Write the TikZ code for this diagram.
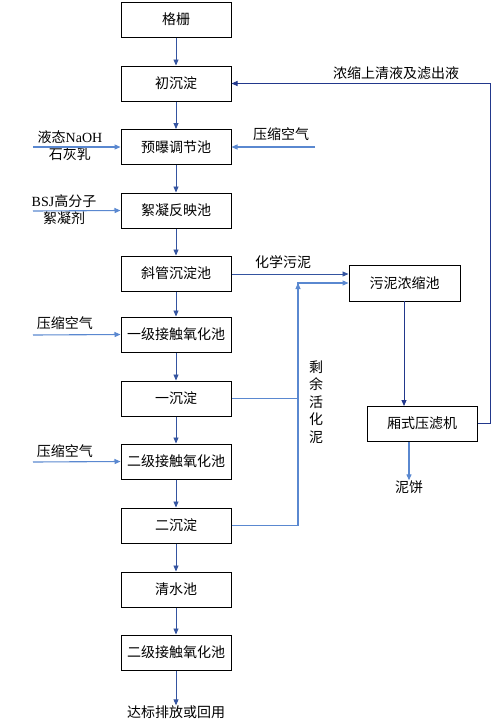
\documentclass[tikz,border=0pt]{standalone}
\usepackage{fontspec}
\setmainfont{Liberation Serif}
\newfontfamily\cjk{Noto Sans CJK SC}
\usetikzlibrary{arrows.meta}
\definecolor{flowdark}{RGB}{52,84,160}
\definecolor{flowlight}{RGB}{90,136,208}
\definecolor{flownavy}{RGB}{34,56,140}
\begin{document}
\begin{tikzpicture}[x=1pt,y=-1pt,
    tank/.style={draw,line width=1pt,minimum width=110pt,minimum height=35pt,inner sep=0pt,font=\fontsize{14}{16}\selectfont\cjk},
    lbl/.style={inner sep=0pt,align=center,font=\fontsize{14}{16}\selectfont},
    flow/.style={-{Triangle[length=6pt,width=5pt]},line width=0.9pt,flowdark},
    feed/.style={flow,flowlight,line width=1.1pt}]
    \useasboundingbox (0,0) rectangle (501,724);

    % main line
    \node[tank] (geshan) at (176,19.5) {格栅};
    \node[tank] (chuchen) at (176,83.5) {初沉淀};
    \node[tank] (yubao) at (176,147) {预曝调节池};
    \node[tank] (xuning) at (176,210.5) {絮凝反映池};
    \node[tank] (xieguan) at (176,273.5) {斜管沉淀池};
    \node[tank] (yiji) at (176,334.5) {一级接触氧化池};
    \node[tank] (yichen) at (176,398.5) {一沉淀};
    \node[tank] (erji) at (176,461.5) {二级接触氧化池};
    \node[tank] (erchen) at (176,525.5) {二沉淀};
    \node[tank] (qingshui) at (176,589.5) {清水池};
    \node[tank] (erjib) at (176,652.5) {二级接触氧化池};
    \node[lbl,font=\fontsize{14}{16}\selectfont\cjk] (dabiao) at (176,712) {达标排放或回用};

    \draw[flow] (geshan) -- (chuchen);
    \draw[flow] (chuchen) -- (yubao);
    \draw[flow] (yubao) -- (xuning);
    \draw[flow] (xuning) -- (xieguan);
    \draw[flow] (xieguan) -- (yiji);
    \draw[flow] (yiji) -- (yichen);
    \draw[flow] (yichen) -- (erji);
    \draw[flow] (erji) -- (erchen);
    \draw[flow] (erchen) -- (qingshui);
    \draw[flow] (qingshui) -- (erjib);
    \draw[flow] (erjib) -- (dabiao.north);

    % dosing on the left
    \coordinate (naohin) at (33,147);
    \coordinate (bsjin) at (33,211);
    \coordinate (air1in) at (33,335);
    \coordinate (air2in) at (33,462);
    \node[lbl] (naoh) at (70,145.5) {{\cjk 液态}NaOH\\[1pt]{\cjk 石灰乳}};
    \node[lbl] (bsj) at (64,209.5) {BSJ{\cjk 高分子}\\[1pt]{\cjk 絮凝剂}};
    \node[lbl,font=\fontsize{14}{16}\selectfont\cjk] (air1) at (65,323) {压缩空气};
    \node[lbl,font=\fontsize{14}{16}\selectfont\cjk] (air2) at (65,451) {压缩空气};
    \draw[feed] (naohin) -- (yubao.west);
    \draw[feed] (bsjin) -- (xuning.west);
    \draw[feed] (air1in) -- (yiji.west);
    \draw[feed] (air2in) -- (erji.west);

    % air on the right
    \coordinate (air3in) at (315,147);
    \node[lbl,font=\fontsize{14}{16}\selectfont\cjk] (air3) at (281,134) {压缩空气};
    \draw[feed] (air3in) -- (yubao.east);

    % sludge line
    \node[tank,minimum width=111pt,minimum height=36pt] (nongsuo) at (404.5,283) {污泥浓缩池};
    \node[tank,minimum width=110pt,minimum height=35pt] (yalv) at (422,423.5) {厢式压滤机};
    \node[lbl,font=\fontsize{14}{16}\selectfont\cjk] (nibing) at (409,487) {泥饼};
    \node[lbl,font=\fontsize{14}{16}\selectfont\cjk] (huaxue) at (283,262) {化学污泥};
    \node[lbl,font=\fontsize{14}{17.5}\selectfont\cjk] (shengyu) at (316,402) {剩\\余\\活\\化\\泥};

    \draw[flow] (xieguan.east |- 0,274) -- (nongsuo.west |- 0,274);
    \coordinate (wuni) at (298,283);
    \draw[feed] (yichen.east) -| (wuni);
    \draw[feed] (erchen.east) -| (wuni) -- (nongsuo.west |- wuni);
    \draw[flow,flownavy] (404,301) -- (404,406);
    \draw[feed] (yalv.south -| nibing) -- (nibing.north);

    % return liquor
    \coordinate (huiliu) at (490,83.5);
    \node[lbl,font=\fontsize{14}{16}\selectfont\cjk] (shangqing) at (396,73) {浓缩上清液及滤出液};
    \draw[flow,flownavy] (yalv.east) -| (huiliu) -- (chuchen.east);
\end{tikzpicture}
\end{document}
